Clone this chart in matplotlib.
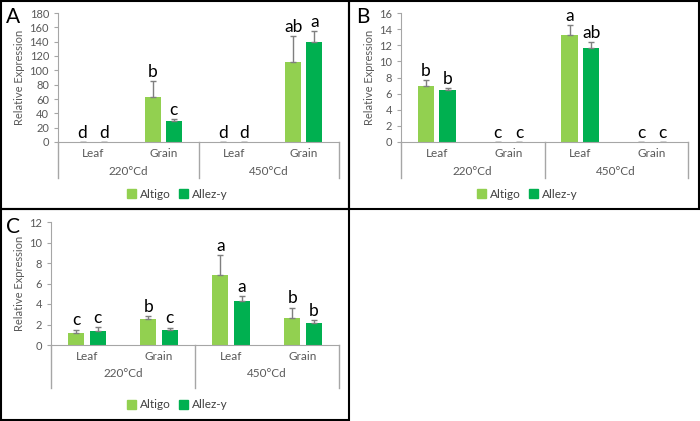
import matplotlib
matplotlib.use("Agg")
import matplotlib.pyplot as plt
import matplotlib.transforms as mtrans
from matplotlib.patches import Rectangle, Patch
import numpy as np

plt.rcParams['font.family'] = ['Lato', 'DejaVu Sans']

tissues = ["Leaf", "Grain", "Leaf", "Grain"]
stages = ["220°Cd", "450°Cd"]
varieties = ["Altigo", "Allez-y"]
colors = ["#92D050", "#00B050"]

# panel A
a_altigo = [0, 63, 0, 112]
a_altigo_err = [0, 22, 0, 36]
a_allez = [0, 30, 0, 140]
a_allez_err = [0, 2, 0, 15]
a_let_altigo = ["d", "b", "d", "ab"]
a_let_allez = ["d", "c", "d", "a"]

# panel B
b_altigo = [6.9, 0, 13.3, 0]
b_altigo_err = [0.8, 0, 1.2, 0]
b_allez = [6.4, 0, 11.7, 0]
b_allez_err = [0.3, 0, 0.7, 0]
b_let_altigo = ["b", "c", "a", "c"]
b_let_allez = ["b", "c", "ab", "c"]

# panel C
c_altigo = [1.2, 2.5, 6.85, 2.65]
c_altigo_err = [0.3, 0.3, 1.95, 1.0]
c_allez = [1.4, 1.5, 4.3, 2.15]
c_allez_err = [0.35, 0.2, 0.45, 0.25]
c_let_altigo = ["c", "b", "a", "b"]
c_let_allez = ["c", "c", "a", "b"]

W, H = 700, 421
fig = plt.figure(figsize=(7, 4.21), dpi=100)

gray = "#595959"
axcol = "#a6a6a6"


def px_axes(left, right, top, bottom):
    return fig.add_axes([left / W, (H - bottom) / H, (right - left) / W, (bottom - top) / H])


def panel(ax, s1, e1, s2, e2, l1, l2, ymax, step, label, lab_xy, leg_xy, drop):
    x = np.arange(len(tissues))
    w, off = 0.23, 0.15
    ek = dict(ecolor="#7f7f7f", elinewidth=1, capsize=2.5, capthick=1)
    ax.bar(x - off, s1, w, color=colors[0],
           yerr=[np.zeros(len(e1)), e1], error_kw=ek)
    ax.bar(x + off, s2, w, color=colors[1],
           yerr=[np.zeros(len(e2)), e2], error_kw=ek)
    for xi, v, e, t in zip(x - off, s1, e1, l1):
        ax.annotate(t, (xi, v + e), xytext=(0, 3), textcoords="offset points",
                    ha="center", va="baseline", fontsize=12.5)
    for xi, v, e, t in zip(x + off, s2, e2, l2):
        ax.annotate(t, (xi, v + e), xytext=(0, 3), textcoords="offset points",
                    ha="center", va="baseline", fontsize=12.5)
    ax.set_xlim(-0.5, len(tissues) - 0.5)
    ax.set_ylim(0, ymax)
    ax.set_yticks(np.arange(0, ymax + 0.1, step))
    ax.tick_params(axis="y", labelsize=8, colors=gray, length=3, color=axcol)
    ax.tick_params(axis="x", length=0, labelbottom=False)
    ax.set_ylabel("Relative Expression", fontsize=8, color=gray, labelpad=3)
    for s in ["top", "right"]:
        ax.spines[s].set_visible(False)
    ax.spines["left"].set_color(axcol)
    ax.spines["bottom"].set_color(axcol)
    tr = mtrans.blended_transform_factory(ax.transData, ax.transAxes)
    for bx in [-0.5, 1.5, 3.5]:
        ax.plot([bx, bx], [0, -drop], color=axcol, lw=1, transform=tr, clip_on=False)
    for xi, t in zip(x, tissues):
        ax.text(xi, -0.09, t, transform=tr, ha="center", va="center", fontsize=8.5, color=gray)
    for gi, t in enumerate(stages):
        ax.text(0.5 + 2 * gi, -0.23, t, transform=tr, ha="center", va="center",
                fontsize=8.5, color=gray)
    fig.text(lab_xy[0] / W, 1 - lab_xy[1] / H, label, fontsize=15, ha="center", va="center")
    handles = [Patch(color=c) for c in colors]
    fig.legend(handles, varieties, loc="center", ncol=2, frameon=False,
               bbox_to_anchor=(leg_xy[0] / W, 1 - leg_xy[1] / H), fontsize=8.5,
               handlelength=0.8, handleheight=0.8, handletextpad=0.3, columnspacing=0.7,
               labelcolor="#404040")


axA = px_axes(58, 339, 13, 142)
panel(axA, a_altigo, a_altigo_err, a_allez, a_allez_err, a_let_altigo, a_let_allez,
      180, 20, "A", (13, 17), (177, 194), 0.28)

axB = px_axes(401, 688, 13, 142)
panel(axB, b_altigo, b_altigo_err, b_allez, b_allez_err, b_let_altigo, b_let_allez,
      16, 2, "B", (363, 17), (527, 194), 0.28)

axC = px_axes(51, 339, 222, 345)
panel(axC, c_altigo, c_altigo_err, c_allez, c_allez_err, c_let_altigo, c_let_allez,
      12, 2, "C", (13, 227), (177, 405), 0.35)

# panel borders
for (l, t, r, b) in [(1, 1, 349, 209), (349, 1, 699, 209), (1, 209, 349, 420)]:
    fig.patches.append(Rectangle((l / W, 1 - b / H), (r - l) / W, (b - t) / H,
                                 transform=fig.transFigure, fill=False,
                                 edgecolor="black", lw=1.5))

fig.savefig("out.png", dpi=100)
